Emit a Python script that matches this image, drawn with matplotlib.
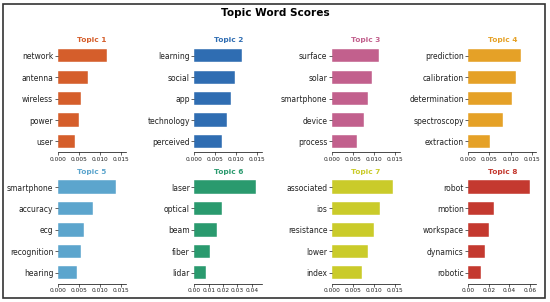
import matplotlib.pyplot as plt
from matplotlib.patches import Rectangle

topics = ['Topic 1', 'Topic 2', 'Topic 3', 'Topic 4',
          'Topic 5', 'Topic 6', 'Topic 7', 'Topic 8']
colors = ['#D55E2B', '#2F6DB2', '#C2608D', '#E5A127',
          '#5CA5CD', '#2A9A6E', '#CACB2A', '#C4392F']

words_1 = ['network', 'antenna', 'wireless', 'power', 'user']
scores_1 = [0.0118, 0.0071, 0.0056, 0.0051, 0.0040]
words_2 = ['learning', 'social', 'app', 'technology', 'perceived']
scores_2 = [0.0115, 0.0099, 0.0089, 0.0078, 0.0067]
words_3 = ['surface', 'solar', 'smartphone', 'device', 'process']
scores_3 = [0.0113, 0.0097, 0.0087, 0.0077, 0.0061]
words_4 = ['prediction', 'calibration', 'determination', 'spectroscopy', 'extraction']
scores_4 = [0.0124, 0.0113, 0.0103, 0.0083, 0.0052]
words_5 = ['smartphone', 'accuracy', 'ecg', 'recognition', 'hearing']
scores_5 = [0.0139, 0.0083, 0.0062, 0.0056, 0.0046]
words_6 = ['laser', 'optical', 'beam', 'fiber', 'lidar']
scores_6 = [0.0430, 0.0195, 0.0160, 0.0111, 0.0081]
words_7 = ['associated', 'ios', 'resistance', 'lower', 'index']
scores_7 = [0.0147, 0.0116, 0.0101, 0.0086, 0.0071]
words_8 = ['robot', 'motion', 'workspace', 'dynamics', 'robotic']
scores_8 = [0.0599, 0.0252, 0.0204, 0.0158, 0.0123]

all_words = [words_1, words_2, words_3, words_4, words_5, words_6, words_7, words_8]
all_scores = [scores_1, scores_2, scores_3, scores_4, scores_5, scores_6, scores_7, scores_8]
xticks = [[0, 0.005, 0.010, 0.015]] * 5 + [[0, 0.01, 0.02, 0.03, 0.04],
                                           [0, 0.005, 0.010, 0.015],
                                           [0, 0.02, 0.04, 0.06]]
xfmt = ['%.3f'] * 5 + ['%.2f', '%.3f', '%.2f']
# pixel distance of the last tick from zero, used to keep tick spacing
last_tick_px = [63, 62.4, 63, 63.4, 63, 57.4, 63, 61.7]

W, H = 550, 302
fig = plt.figure(figsize=(W / 100, H / 100), dpi=100)
fig.patch.set_facecolor('white')

col_left = [57.7, 194.3, 331.7, 468.3]
row_top = [45.0, 176.3]
ax_w = 68
ax_h = 107.2

for i in range(8):
    r, c = divmod(i, 4)
    left = col_left[c] / W
    bottom = (H - row_top[r] - ax_h) / H
    ax = fig.add_axes([left, bottom, ax_w / W, ax_h / H])
    y = list(range(len(all_words[i])))
    ax.barh(y, all_scores[i], height=0.62, color=colors[i],
            edgecolor='white', linewidth=0.3)
    ax.set_yticks(y)
    ax.set_yticklabels(all_words[i], fontsize=5.5)
    ax.set_ylim(4.5, -0.5)
    ax.set_xticks(xticks[i])
    ax.set_xticklabels([xfmt[i] % t for t in xticks[i]], fontsize=4.2)
    ax.set_xlim(0, xticks[i][-1] * ax_w / last_tick_px[i])
    for s in ['top', 'right', 'left']:
        ax.spines[s].set_visible(False)
    ax.spines['bottom'].set_linewidth(0.5)
    ax.tick_params(axis='both', length=2.2, width=0.5, pad=1, colors='#222222')
    ax.set_title(topics[i], fontsize=5.3, fontweight='bold', color=colors[i], pad=2)

fig.suptitle('Topic Word Scores', fontsize=7.6, fontweight='bold', y=1 - 13.5 / H, va='center')
fig.patches.append(Rectangle((3.3 / W, 4 / H), (545 - 3.3) / W, (298 - 4) / H,
                             transform=fig.transFigure, fill=False,
                             edgecolor='#333333', linewidth=1.2))

fig.savefig('out.png', dpi=100)
